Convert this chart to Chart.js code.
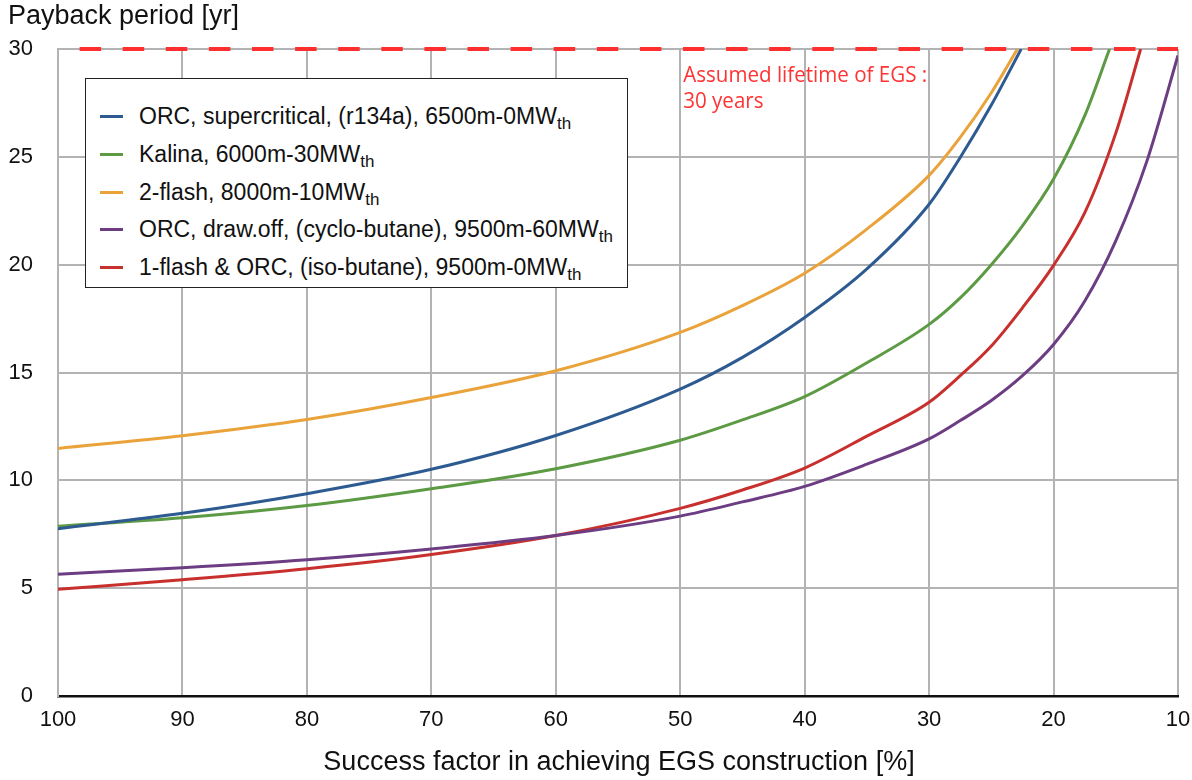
<!DOCTYPE html>
<html>
<head>
<meta charset="utf-8">
<script src="https://cdn.jsdelivr.net/npm/chart.js@4.4.1/dist/chart.umd.min.js"></script>
<style>
  body { margin: 0; background: #fff; }
  #wrap { position: relative; width: 1192px; height: 780px; }
  #legend {
    position: absolute; left: 85px; top: 78px; width: 543px; height: 210px;
    border: 1.5px solid #222; background: #fff; box-sizing: border-box;
    font-family: "Liberation Sans", Arial, sans-serif; font-size: 23px; color: #111;
    padding-top: 19px;
  }
  #legend .row { position: relative; height: 37.8px; line-height: 37.8px; padding-left: 53px; white-space: nowrap; }
  #legend .sw { position: absolute; left: 14px; top: 17px; width: 23px; height: 3px; }
  #legend sub { font-size: 17px; vertical-align: -5px; line-height: 0; }
</style>
</head>
<body>
<div id="wrap">
  <canvas id="c" width="1192" height="780"></canvas>
  <div id="legend"></div>
</div>
<script>
// success factor [%] and payback period [yr]
var seriesNames = ['ORC, supercritical, (r134a), 6500m-0MW', 'Kalina, 6000m-30MW', '2-flash, 8000m-10MW', 'ORC, draw.off, (cyclo-butane), 9500m-60MW', '1-flash & ORC, (iso-butane), 9500m-0MW'];
var seriesColors = ['#2d5b91', '#5c9a43', '#eaa33b', '#6c3d82', '#c8302e'];

var sfBlue   = [100, 90, 80, 70, 60, 50, 45, 40, 35, 30, 27.5, 25, 22.6];
var ppBlue   = [7.76, 8.47, 9.38, 10.51, 12.08, 14.23, 15.7, 17.55, 19.8, 22.8, 24.97, 27.4, 30];

var sfGreen  = [100, 90, 80, 70, 60, 50, 45, 40, 35, 30, 27.5, 25, 22.5, 20, 17.5, 15.5];
var ppGreen  = [7.87, 8.26, 8.83, 9.61, 10.54, 11.86, 12.8, 13.88, 15.45, 17.23, 18.46, 20.0, 21.8, 23.97, 26.9, 30];

var sfOrange = [100, 90, 80, 70, 60, 50, 45, 40, 35, 30, 27.5, 25, 22.9];
var ppOrange = [11.48, 12.07, 12.82, 13.84, 15.08, 16.86, 18.1, 19.6, 21.65, 24.14, 25.9, 27.97, 30];

var sfPurple = [100, 90, 80, 70, 60, 50, 45, 40, 35, 30, 27.5, 25, 22.5, 20, 17.5, 15, 12.5, 10];
var ppPurple = [5.65, 5.95, 6.32, 6.82, 7.44, 8.34, 9.0, 9.72, 10.75, 11.92, 12.77, 13.7, 14.85, 16.3, 18.3, 21.1, 24.8, 29.7];

var sfRed    = [100, 90, 80, 70, 60, 50, 45, 40, 35, 30, 27.5, 25, 22.5, 20, 17.5, 15, 13];
var ppRed    = [4.95, 5.39, 5.9, 6.56, 7.44, 8.7, 9.55, 10.57, 12.05, 13.62, 14.85, 16.23, 18.0, 19.97, 22.4, 26.1, 30];

var lifetime = 30;
var lifetimeText = ['Assumed lifetime of EGS :', '30 years'];
var xTitle = 'Success factor in achieving EGS construction [%]';
var yTitle = 'Payback period [yr]';

function pts(xs, ys) {
    var out = [];
    for (var i = 0; i < xs.length; i++) out.push({x: xs[i], y: ys[i]});
    return out;
}

var allX = [sfBlue, sfGreen, sfOrange, sfPurple, sfRed];
var allY = [ppBlue, ppGreen, ppOrange, ppPurple, ppRed];

var datasets = [];
for (var i = 0; i < seriesNames.length; i++) {
    datasets.push({
        label: seriesNames[i] + 'th',
        data: pts(allX[i], allY[i]),
        borderColor: seriesColors[i],
        borderWidth: 3,
        pointRadius: 0,
        cubicInterpolationMode: 'monotone',
        fill: false
    });
}
// lifetime line
datasets.push({
    label: 'lifetime',
    data: [{x: 100, y: lifetime}, {x: 10, y: lifetime}],
    borderColor: '#ff2f2f',
    borderWidth: 4,
    borderDash: [21.5, 21.6],
    borderDashOffset: 21.5,
    pointRadius: 0,
    clip: 4,
    order: -1
});

// legend (html, so the "th" can be a real subscript)
var lg = document.getElementById('legend');
for (var i = 0; i < seriesNames.length; i++) {
    var row = document.createElement('div');
    row.className = 'row';
    row.innerHTML = '<span class="sw" style="background:' + seriesColors[i] + '"></span>' +
        seriesNames[i].replace('&', '&amp;') + '<sub>th</sub>';
    lg.appendChild(row);
}

var textPlugin = {
    id: 'texts',
    afterDraw: function(chart) {
        var ctx = chart.ctx;
        ctx.save();
        ctx.fillStyle = '#111';
        ctx.font = '27px "Liberation Sans", Arial, sans-serif';
        ctx.textBaseline = 'middle';
        ctx.textAlign = 'left';
        ctx.fillText(yTitle, 8, 17);
        ctx.textAlign = 'center';
        ctx.fillText(xTitle, 619, 763);

        // red note next to the 50% grid line
        var x0 = chart.scales.x.getPixelForValue(50) + 3;
        ctx.fillStyle = '#ff3333';
        ctx.font = '21px "Open Sans", sans-serif';
        ctx.textAlign = 'left';
        ctx.textBaseline = 'alphabetic';
        var k = 244 / ctx.measureText(lifetimeText[0]).width;
        ctx.translate(x0, 0);
        ctx.scale(k, 1);
        ctx.fillText(lifetimeText[0], 0, 82);
        ctx.fillText(lifetimeText[1], 0, 108);
        ctx.restore();
    }
};

var ctx = document.getElementById('c');
var chart = new Chart(ctx, {
    type: 'line',
    data: { datasets: datasets },
    options: {
        responsive: false,
        animation: false,
        devicePixelRatio: 1,
        layout: { padding: { top: 49, right: 0, bottom: 0, left: 0 } },
        plugins: { legend: { display: false }, tooltip: { enabled: false } },
        scales: {
            x: {
                type: 'linear',
                reverse: true,
                min: 10,
                max: 100,
                ticks: { stepSize: 10, padding: 11, color: '#111', font: { family: '"Liberation Sans", Arial, sans-serif', size: 22 } },
                grid: { color: '#b3b3b3', lineWidth: 2, drawTicks: false },
                border: { color: '#111', width: 2.5 },
                afterFit: function(s) { s.height = 84; s.paddingRight = 14; s.paddingLeft = 0; }
            },
            y: {
                min: 0,
                max: 30,
                ticks: { stepSize: 5, padding: 25, color: '#111', font: { family: '"Liberation Sans", Arial, sans-serif', size: 22 } },
                grid: { color: '#b3b3b3', lineWidth: 2, drawTicks: false },
                border: { color: '#b3b3b3', width: 2 },
                afterFit: function(s) { s.width = 58; }
            }
        }
    },
    plugins: [textPlugin]
});
</script>
</body>
</html>
